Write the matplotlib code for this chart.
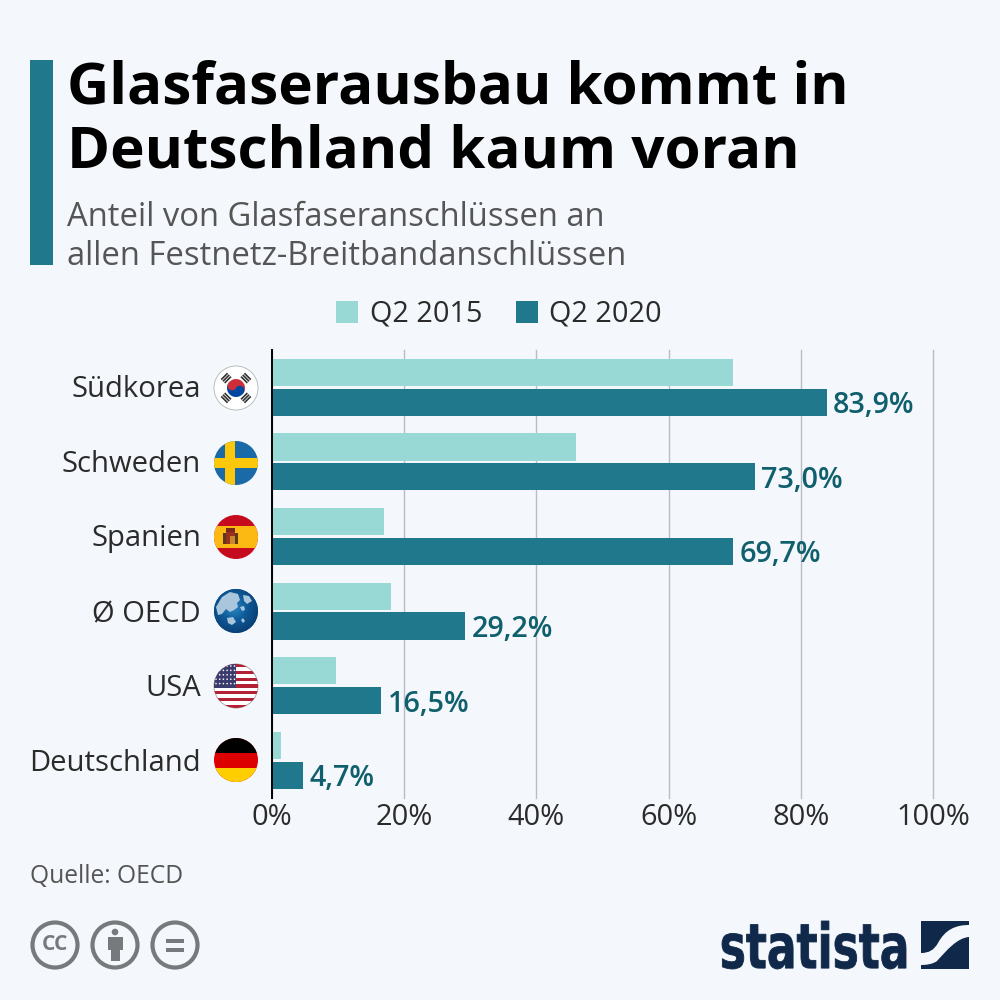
import numpy as np
import matplotlib
matplotlib.use('Agg')
import matplotlib.pyplot as plt
from matplotlib.patches import Circle, Rectangle, PathPatch, Polygon, Wedge
from matplotlib.path import Path
from matplotlib.textpath import TextPath
from matplotlib.font_manager import FontProperties
from matplotlib.transforms import Affine2D

plt.rcParams['font.family'] = ['Open Sans', 'DejaVu Sans']

# --- data
countries = ['Südkorea', 'Schweden', 'Spanien', 'Ø OECD', 'USA', 'Deutschland']
q2_2015 = [69.8, 46.0, 17.0, 18.0, 9.7, 1.4]
q2_2020 = [83.9, 73.0, 69.7, 29.2, 16.5, 4.7]
value_labels = ['83,9%', '73,0%', '69,7%', '29,2%', '16,5%', '4,7%']
x_ticks = [0, 20, 40, 60, 80, 100]
x_tick_labels = ['0%', '20%', '40%', '60%', '80%', '100%']

BG = '#f4f7fb'
LIGHT = '#98d9d5'
DARK = '#20788c'
VALUE = '#0f5f6d'
NAVY = '#10294a'
TEXT = '#2b2b2b'

fig = plt.figure(figsize=(10, 10), dpi=100, facecolor=BG)

# --- bars (axes placed in pixel terms: 0% at x=272, 100% at x=933, y from 350 to 797.6)
ax = fig.add_axes([0.272, 1 - 0.7976, 0.661, 0.4476], facecolor=BG)
ypos = np.arange(len(countries))
ax.barh(ypos - 0.2, q2_2015, height=0.365, color=LIGHT, zorder=3)
ax.barh(ypos + 0.2, q2_2020, height=0.365, color=DARK, zorder=3)
ax.set_xlim(0, 100)
ax.set_ylim(5.5, -0.5)
ax.set_xticks(x_ticks)
ax.set_xticklabels(x_tick_labels, fontsize=20.9, color=TEXT)
ax.set_yticks([])
ax.tick_params(axis='x', length=0, pad=4)
ax.grid(axis='x', color='#b9bdc2', linewidth=1, zorder=0)
for gl in ax.get_xgridlines():
    gl.set_clip_on(False)
for s in ['top', 'right', 'bottom']:
    ax.spines[s].set_visible(False)
ax.spines['left'].set_color('black')
ax.spines['left'].set_linewidth(1.4)
ax.spines['left'].set_zorder(5)

for i, lab in enumerate(value_labels):
    ax.text(q2_2020[i] + 1.0, i + 0.2, lab, va='center_baseline', ha='left', fontsize=20.7,
            color=VALUE, fontweight=600, zorder=6)

# --- overlay in pixel coordinates for titles, flags, logos
ov = fig.add_axes([0, 0, 1, 1], facecolor='none')
ov.set_xlim(0, 1000)
ov.set_ylim(1000, 0)
ov.axis('off')

ov.add_patch(Rectangle((30, 60), 23, 205, color=DARK, lw=0))
ov.text(67, 104, 'Glasfaserausbau kommt in', fontsize=42, fontweight='bold', color='black', va='baseline')
ov.text(67, 168, 'Deutschland kaum voran', fontsize=42, fontweight='bold', color='black', va='baseline')
ov.text(67, 226, 'Anteil von Glasfaseranschlüssen an', fontsize=23.55, color='#555555', va='baseline')
ov.text(67, 265, 'allen Festnetz-Breitbandanschlüssen', fontsize=23.55, color='#555555', va='baseline')

flag_y = [388, 463, 537, 611, 686, 760]
label_base = [397, 472, 546, 622, 696, 771]
for name, y in zip(countries, label_base):
    ov.text(201, y, name, ha='right', va='baseline', fontsize=21.1, color=TEXT)

# legend
ov.add_patch(Rectangle((336, 301), 22, 22, color=LIGHT, lw=0))
ov.text(370, 321, 'Q2 2015', va='baseline', fontsize=20.8, color=TEXT)
ov.add_patch(Rectangle((516, 301), 22, 22, color=DARK, lw=0))
ov.text(549, 321, 'Q2 2020', va='baseline', fontsize=20.8, color=TEXT)

ov.text(30, 883, 'Quelle: OECD', va='baseline', fontsize=17.7, color='#555555')

# --- flags
FX, FR = 236, 22


def clip_add(patch, clip):
    ov.add_patch(patch)
    patch.set_clip_path(clip)
    return patch


def flag_base(y, color='white', edge='#bbbbbb'):
    base = Circle((FX, y), FR, facecolor=color, edgecolor=edge, linewidth=0.6, zorder=2)
    ov.add_patch(base)
    return base


def korea(y):
    c = flag_base(y, 'white', '#b5b5b5')
    angle = 30
    ov.add_patch(Wedge((FX, y), 9, 180 + angle, 360 + angle, color='#cd2e3a', lw=0, zorder=3))
    ov.add_patch(Wedge((FX, y), 9, angle, 180 + angle, color='#0047a0', lw=0, zorder=3))
    d = np.array([np.cos(np.radians(angle)), np.sin(np.radians(angle))])
    ov.add_patch(Circle((FX - 4.5 * d[0], y - 4.5 * d[1]), 4.5, color='#cd2e3a', lw=0, zorder=4))
    ov.add_patch(Circle((FX + 4.5 * d[0], y + 4.5 * d[1]), 4.5, color='#0047a0', lw=0, zorder=4))
    for ang in [-45, 45, 135, 225]:
        t = np.radians(ang)
        mx, my = FX + 14 * np.cos(t), y + 14 * np.sin(t)
        for off in [-2.4, 0, 2.4]:
            ox, oy = mx + off * np.cos(t), my + off * np.sin(t)
            px, py = -np.sin(t) * 4.5, np.cos(t) * 4.5
            ov.plot([ox - px, ox + px], [oy - py, oy + py], color='#333333', lw=1.2,
                    solid_capstyle='butt', zorder=3)


def sweden(y):
    c = flag_base(y, '#1b6aa8', 'none')
    clip_add(Rectangle((FX - 11, y - FR), 10, 2 * FR, color='#fdc70c', lw=0, zorder=3), c)
    clip_add(Rectangle((FX - FR, y - 5), 2 * FR, 9.5, color='#fdc70c', lw=0, zorder=3), c)


def spain(y):
    c = flag_base(y, '#c60b1e', 'none')
    clip_add(Rectangle((FX - FR, y - 11), 2 * FR, 22, color='#fdb913', lw=0, zorder=3), c)
    ov.add_patch(Rectangle((FX - 13, y - 4), 3, 11, color='#5a3a1a', lw=0, zorder=4))
    ov.add_patch(Rectangle((FX - 1, y - 4), 3, 11, color='#5a3a1a', lw=0, zorder=4))
    ov.add_patch(Rectangle((FX - 10, y - 5), 9, 12, color='#9c2f1e', lw=0, zorder=4))
    ov.add_patch(Rectangle((FX - 6, y - 1), 5, 8, color='#c9892a', lw=0, zorder=5))
    ov.add_patch(Rectangle((FX - 10, y - 9), 9, 4, color='#7a2a1a', lw=0, zorder=4))


def globe(y):
    c = flag_base(y, '#0f5d9c', 'none')
    n = 64
    yy, xx = np.mgrid[-1:1:n * 1j, -1:1:n * 1j]
    r = np.hypot(xx + 0.1, yy + 0.15)
    im = ov.imshow(np.clip(r, 0, 1.2), extent=[FX - FR, FX + FR, y + FR, y - FR],
                   cmap=matplotlib.colors.LinearSegmentedColormap.from_list('g', ['#2a86c4', '#0e5a98', '#0a3f73']),
                   aspect='auto', zorder=3, interpolation='bilinear')
    im.set_clip_path(c)
    ov.set_xlim(0, 1000)
    ov.set_ylim(1000, 0)
    land = [
        [(-20, -4), (-14, -14), (-6, -19), (2, -17), (4, -11), (1, -8), (2, -4), (-2, -1), (-6, 1), (-10, -2), (-14, 3), (-18, 4)],
        [(7, -16), (13, -15), (16, -10), (11, -7), (8, -10)],
        [(4, -4), (8, -5), (9, -1), (6, 0)],
        [(-9, 7), (-3, 6), (0, 11), (-4, 14), (-8, 12)],
        [(5, 9), (7, 7), (9, 10), (7, 12)],
    ]
    for pts in land:
        clip_add(Polygon([(FX + a, y + b) for a, b in pts], closed=True, facecolor='#a9c6dc',
                         edgecolor='none', zorder=4), c)


def usa(y):
    c = flag_base(y, 'white', '#a8a0a0')
    stripe = 2 * FR / 13
    for k in range(0, 13, 2):
        clip_add(Rectangle((FX - FR, y - FR + k * stripe), 2 * FR, stripe, color='#b22234', lw=0, zorder=3), c)
    clip_add(Rectangle((FX - FR, y - FR), 22, 7 * stripe, color='#3c3b6e', lw=0, zorder=4), c)
    for j in range(5):
        for k in range(6):
            p = Circle((FX - FR + 2 + k * 3.7, y - FR + 2 + j * 4.4), 0.8, color='white', lw=0, zorder=5)
            clip_add(p, c)


def germany(y):
    c = flag_base(y, '#dd0000', 'none')
    clip_add(Rectangle((FX - FR, y - FR), 2 * FR, 14.5, color='black', lw=0, zorder=3), c)
    clip_add(Rectangle((FX - FR, y + 7.5), 2 * FR, 15, color='#ffce00', lw=0, zorder=3), c)


for func, y in zip([korea, sweden, spain, globe, usa, germany], flag_y):
    func(y)

# --- cc icons
GREY = '#777a7c'
icon_x = [55, 115, 175]
for cx in icon_x:
    ov.add_patch(Circle((cx, 945), 22.5, facecolor='none', edgecolor=GREY, linewidth=3))
ov.text(55, 945, 'CC', ha='center', va='center', fontsize=15, fontweight='bold', color=GREY)
ov.add_patch(Circle((115, 932), 3.3, color=GREY, lw=0))
ov.add_patch(Rectangle((107.5, 937), 15, 13, color=GREY, lw=0))
ov.add_patch(Rectangle((110.5, 948), 9, 13, color=GREY, lw=0))
ov.add_patch(Rectangle((166, 939), 18, 4, color=GREY, lw=0))
ov.add_patch(Rectangle((166, 948), 18, 4, color=GREY, lw=0))

# --- statista logo
tp = TextPath((0, 0), 'statista', size=10, prop=FontProperties(family='Liberation Sans Narrow', weight='bold'))
bb = tp.get_extents()
sx = (906 - 722) / bb.width
sy = (969 - 921) / bb.height
trans = Affine2D().translate(-bb.x0, -bb.y0).scale(sx, -sy).translate(722, 969) + ov.transData
ov.add_patch(PathPatch(tp, facecolor=NAVY, edgecolor=NAVY, linewidth=0.6, transform=trans))

C3, L, M = Path.CURVE4, Path.LINETO, Path.MOVETO
top = Path([(921, 921), (969, 921), (969, 925), (955, 925), (945, 930), (938, 943),
            (934, 950), (929, 953), (921, 953), (921, 921)],
           [M, L, L, C3, C3, C3, C3, C3, C3, Path.CLOSEPOLY])
bottom = Path([(969, 937), (957, 938), (947, 950), (937, 961), (933, 964), (927, 965), (921, 965),
               (921, 969), (969, 969), (969, 937)],
              [M, C3, C3, C3, C3, C3, C3, L, L, Path.CLOSEPOLY])
ov.add_patch(PathPatch(top, facecolor=NAVY, lw=0))
ov.add_patch(PathPatch(bottom, facecolor=NAVY, lw=0))

fig.savefig('out.png', dpi=100, facecolor=BG)
